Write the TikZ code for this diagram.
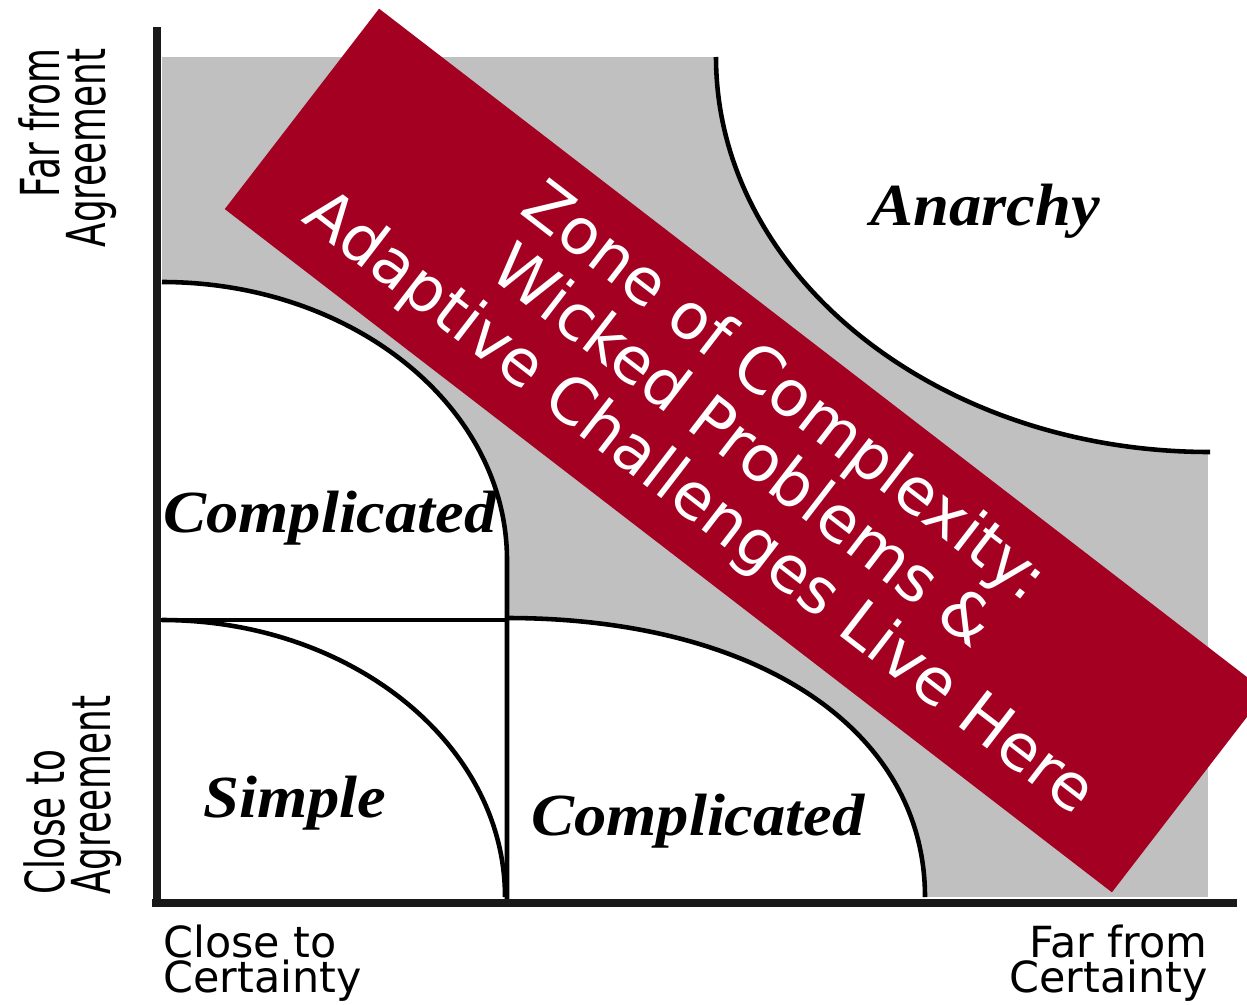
\documentclass[tikz,border=0pt]{standalone}
\usepackage{fontspec}
\setmainfont{DejaVu Sans}
\newfontfamily\regionfont{Liberation Serif}
\usetikzlibrary{calc}
\definecolor{zonered}{RGB}{164,0,34}
\definecolor{zonegray}{RGB}{192,192,192}
\tikzset{
	axisline/.style={line width=5pt, color=black!90},
	regionline/.style={line width=2.6pt, color=black},
	regionlabel/.style={font=\regionfont\bfseries\itshape\fontsize{34}{40}\selectfont, inner sep=0pt, anchor=base, xscale=1.08},
	axislabel/.style={font=\fontsize{24.4}{19.8}\selectfont, inner sep=0pt},
	sidelabel/.style={font=\fontsize{20.4}{17.6}\selectfont, inner sep=0pt, rotate=90, yscale=1.5},
	zonebox/.style={fill=zonered, minimum width=22.4cm, minimum height=5.06cm, inner sep=0pt, rotate=-37.6},
	zonetext/.style={text=white, font=\fontsize{36.3}{39.7}\selectfont, align=center, inner sep=0pt, rotate=-37.6}
}

\begin{document}
\begin{tikzpicture}[x=0.02cm, y=-0.02cm]
			\useasboundingbox (0,0) rectangle (1247,1004);
			%%%%% START %%%%%
			
			\fill[zonegray] (162,57) rectangle (1208,897);
			
			\fill[white] (716,57) .. controls (716,275) and (937,452) .. (1212,452) -- (1212,57) -- cycle;
			\fill[white] (162,282) .. controls (352.5,282) and (507,406.5) .. (507,560) -- (507,620) -- (162,620) -- cycle;
			\fill[white] (162,620) rectangle (507,897);
			\fill[white] (507,618) .. controls (758,618) and (925,730) .. (925,897) -- (507,897) -- cycle;
			
			\draw[regionline] (716,57) .. controls (716,275) and (937,452) .. (1210,452);
			\draw[regionline] (162,282) .. controls (352.5,282) and (507,406.5) .. (507,560) -- (507,903);
			\draw[regionline] (157,620) -- (507,620);
			\draw[regionline] (162,620) .. controls (351,620) and (505,744) .. (505,897);
			\draw[regionline] (507,618) .. controls (758,618) and (925,730) .. (925,897);
			
			\draw[axisline] (157,27) -- (157,907);
			\draw[axisline] (152,903) -- (1237,903);
			
			\node (anarchy) [regionlabel] at (985,225) {Anarchy};
			\node (complicatedtop) [regionlabel] at (330,532) {Complicated};
			\node (simple) [regionlabel] at (295,817) {Simple};
			\node (complicatedlow) [regionlabel] at (698,835) {Complicated};
			
			\node (closecert) [axislabel, align=left, anchor=north west] at (163,925) {Close to\\Certainty};
			\node (farcert) [axislabel, align=right, anchor=north east] at (1208,925) {Far from\\Certainty};
			\node (faragree) [sidelabel, align=right, anchor=north east] at (18,48) {Far from\\Agreement};
			\node (closeagree) [sidelabel, align=left, anchor=north west] at (23,895) {Close to\\Agreement};
			
			\node (zonebox) [zonebox] at (745.5,450.5) {};
			\node (zonetext) [zonetext] at (741,449) {Zone of Complexity:\\Wicked Problems \&\\Adaptive Challenges Live Here};
			
			%%%%% END %%%%%
\end{tikzpicture}
\end{document}
